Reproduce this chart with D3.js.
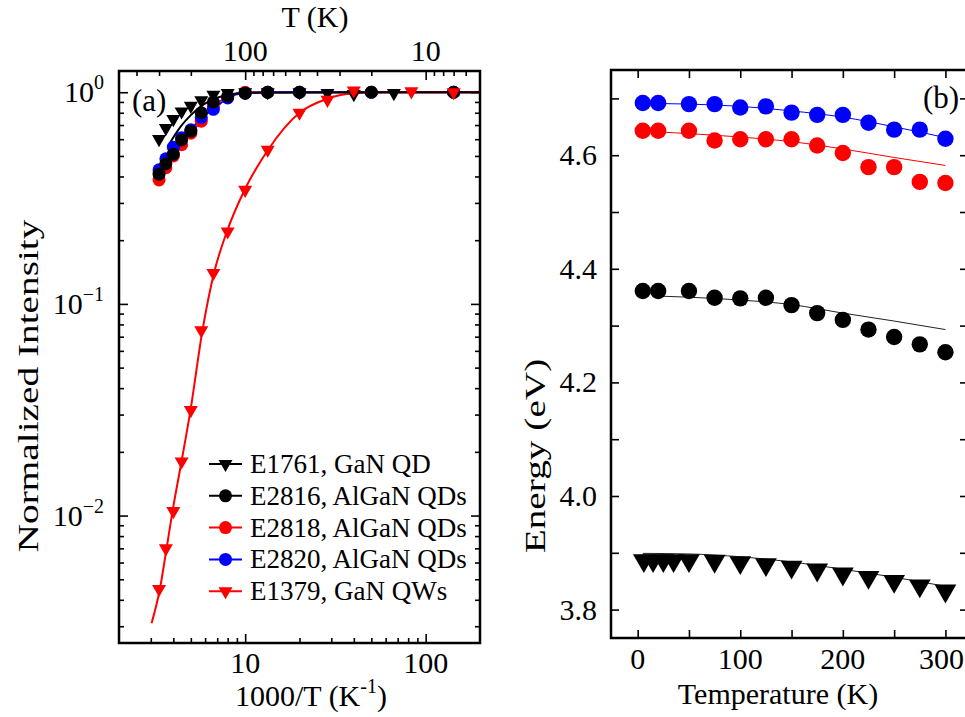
<!DOCTYPE html>
<html><head><meta charset="utf-8">
<script src="https://cdn.jsdelivr.net/npm/d3@7"></script>
<style>
body{margin:0;background:#fff}
text{font-family:"Liberation Serif","Times New Roman",serif;fill:#000}
</style>
</head><body>
<svg id="c" width="965" height="717"></svg>
<script>
// ---------------- Panel (a) data ----------------
const tempA_tri = [300,275,250,225,200,175,150,125,100,75,50,35,25,15];
const intE1761 = [0.601,0.677,0.747,0.811,0.863,0.915,0.973,0.99,1,1,1,0.99,0.98,0.99];
const tempA_dot = [300,275,250,225,200,175,150,125,100,75,50,20,7];
const intE2816 = [0.41,0.46,0.51,0.595,0.655,0.80,0.90,0.955,0.99,1,1,1,1];
const intE2818 = [0.385,0.44,0.50,0.565,0.64,0.73,0.86,0.95,1,1,1,1,1];
const intE2820 = [0.43,0.485,0.55,0.61,0.665,0.76,0.83,0.94,0.99,1,1,1,1];
const tempA_qw = [300,275,250,225,200,175,150,125,100,75,50,35,25,12,7];
const intE1379 = [0.0045,0.0070,0.0105,0.018,0.0315,0.075,0.14,0.22,0.346,0.535,0.80,0.92,1.02,1.01,1];
// fitted curves (a), x = 1000/T
const fitX_E1379 = [3.03,3.37,3.67,3.96,4.44,4.98,5.8,6.72,7.93,9.94,13.4,20,28.3,40,60,200];
const fitY_E1379 = [0.0031,0.0045,0.0070,0.0105,0.018,0.0315,0.075,0.14,0.22,0.346,0.535,0.80,0.93,0.99,1,1];
const fitX_E1761 = [3.8,4.4,5.0,5.6,6.3,7.2,8.5,10,200];
const fitY_E1761 = [0.57,0.69,0.78,0.85,0.905,0.95,0.98,0.995,1];

const legendLabels = ["E1761, GaN QD","E2816, AlGaN QDs","E2818, AlGaN QDs","E2820, AlGaN QDs","E1379, GaN QWs"];

// ---------------- Panel (b) data ----------------
const tempB_dot = [5,20,50,75,100,125,150,175,200,225,250,275,300];
const eE2820 = [4.692,4.692,4.690,4.690,4.684,4.686,4.675,4.671,4.671,4.657,4.645,4.645,4.629];
const eE2818 = [4.643,4.643,4.643,4.626,4.628,4.628,4.628,4.617,4.604,4.579,4.579,4.553,4.551];
const eE2816 = [4.361,4.361,4.361,4.349,4.348,4.349,4.336,4.322,4.310,4.293,4.280,4.267,4.253];
const tempB_tri = [6,15,25,35,50,75,100,125,150,175,200,225,250,275,300];
const eE1761 = [3.8865,3.8865,3.8865,3.8865,3.8865,3.8854,3.883,3.8795,3.875,3.870,3.863,3.857,3.850,3.842,3.833];
const fitT_dot = [20,50,100,150,200,250,300];
const fitE2820 = [4.691,4.690,4.686,4.678,4.667,4.650,4.631];
const fitE2818 = [4.641,4.638,4.632,4.624,4.611,4.596,4.582];
const fitE2816 = [4.352,4.350,4.345,4.337,4.322,4.308,4.293];
const fitT_tri = [5,50,100,150,200,250,300];
const fitE1761 = [3.899,3.898,3.893,3.884,3.871,3.857,3.841];

const RED = "#ff0000", BLUE = "#0000ff", BLACK = "#000000";
const FT = 30;   // tick / title font size

const svg = d3.select("#c");

// ================= Panel (a) =================
const xA = d3.scaleLog().domain([2,200]).range([119,480]);
const tA = d3.scaleLog().domain([500,5]).range([119,480]);   // T axis (1000/T)
const yA = d3.scaleLog().domain([0.0025,1.26]).range([643,71]);

const gA = svg.append("g");
function tickStyle(g){ g.select(".domain").remove(); g.selectAll("line").attr("stroke","#000").attr("stroke-width",1.6); g.selectAll("text").remove(); }

const xMajA = [10,100];
const xMinA = xA.ticks().filter(v => !xMajA.includes(v) && v>2 && v<200);
gA.append("g").attr("transform","translate(0,643)").call(d3.axisBottom(xA).tickValues(xMajA).tickSize(-9)).call(tickStyle);
gA.append("g").attr("transform","translate(0,643)").call(d3.axisBottom(xA).tickValues(xMinA).tickSize(-5)).call(tickStyle);
const tMajA = [100,10];
const tMinA = [400,300,200,90,80,70,60,50,40,30,20,9,8,7,6];
gA.append("g").attr("transform","translate(0,71)").call(d3.axisTop(tA).tickValues(tMajA).tickSize(-9)).call(tickStyle);
gA.append("g").attr("transform","translate(0,71)").call(d3.axisTop(tA).tickValues(tMinA).tickSize(-5)).call(tickStyle);
const yMajA = [1,0.1,0.01];
const yMinA = yA.ticks().filter(v => !yMajA.some(m => Math.abs(m-v)<1e-9) && v>0.0025 && v<1.26);
[[119,d3.axisLeft],[480,d3.axisRight]].forEach(([x,ax])=>{
  gA.append("g").attr("transform",`translate(${x},0)`).call(ax(yA).tickValues(yMajA).tickSize(-9)).call(tickStyle);
  gA.append("g").attr("transform",`translate(${x},0)`).call(ax(yA).tickValues(yMinA).tickSize(-5)).call(tickStyle);
});
gA.append("rect").attr("x",119).attr("y",71).attr("width",361).attr("height",572)
  .attr("fill","none").attr("stroke","#000").attr("stroke-width",2.5);

// tick labels (a)
xMajA.forEach(v => gA.append("text").attr("x",xA(v)).attr("y",673).attr("text-anchor","middle").attr("font-size",FT).text(v));
tMajA.forEach(v => gA.append("text").attr("x",tA(v)).attr("y",61).attr("text-anchor","middle").attr("font-size",FT).text(v));
const yExp = ["0","-1","-2"];
yMajA.forEach((v,i) => {
  const t = gA.append("text").attr("x",104).attr("y",yA(v)+10).attr("text-anchor","end").attr("font-size",FT);
  t.append("tspan").text("10");
  t.append("tspan").attr("dy",-13).attr("font-size",20).text(yExp[i].replace("-","\u2212"));
});
// axis titles (a)
const xt = gA.append("text").attr("x",311).attr("y",706).attr("text-anchor","middle").attr("font-size",FT);
xt.append("tspan").text("1000/T (K");
xt.append("tspan").attr("dy",-13).attr("font-size",20).text("-1");
xt.append("tspan").attr("dy",13).text(")");
gA.append("text").attr("x",315).attr("y",27).attr("text-anchor","middle").attr("font-size",FT).text("T (K)");
gA.append("text").attr("transform","translate(38,386) rotate(-90) scale(1.31,1)").attr("text-anchor","middle").attr("font-size",FT).text("Normalized Intensity");
gA.append("text").attr("x",132).attr("y",111).attr("font-size",31).text("(a)");

// lines (a)
const lineA = d3.line().x(d=>xA(d[0])).y(d=>yA(d[1])).curve(d3.curveMonotoneX);
function ptsA(temps, vals){ return temps.map((t,i)=>[1000/t, vals[i]]).sort((a,b)=>a[0]-b[0]); }
const plotA = gA.append("g");
function extendTo200(p){ return p.concat([[200,1]]); }
plotA.append("path").datum(extendTo200(ptsA(tempA_dot,intE2818))).attr("d",lineA).attr("fill","none").attr("stroke",RED).attr("stroke-width",1.8);
plotA.append("path").datum(extendTo200(ptsA(tempA_dot,intE2820))).attr("d",lineA).attr("fill","none").attr("stroke",BLUE).attr("stroke-width",1.8);
plotA.append("path").datum(fitX_E1379.map((x,i)=>[x,fitY_E1379[i]])).attr("d",lineA).attr("fill","none").attr("stroke",RED).attr("stroke-width",2);
plotA.append("path").datum(fitX_E1761.map((x,i)=>[x,fitY_E1761[i]])).attr("d",lineA).attr("fill","none").attr("stroke",BLACK).attr("stroke-width",2);

const triA = d3.symbol().type(d3.symbolTriangle).size(85)();
const triB = d3.symbol().type(d3.symbolTriangle).size(205)();
function circles(g, pts, r, col){
  g.selectAll(null).data(pts).join("circle").attr("cx",d=>d[0]).attr("cy",d=>d[1]).attr("r",r).attr("fill",col);
}
function tris(g, pts, path, col){
  g.selectAll(null).data(pts).join("path").attr("d",path).attr("fill",col)
   .attr("transform",d=>`translate(${d[0]},${d[1]}) rotate(180)`);
}
const pxA = p => [xA(p[0]), yA(p[1])];
circles(plotA, ptsA(tempA_dot,intE2818).map(pxA), 6.5, RED);
circles(plotA, ptsA(tempA_dot,intE2820).map(pxA), 6.5, BLUE);
circles(plotA, ptsA(tempA_dot,intE2816).map(pxA), 6.5, BLACK);
tris(plotA, ptsA(tempA_tri,intE1761).map(pxA), triA, BLACK);
tris(plotA, ptsA(tempA_qw,intE1379).map(pxA), triA, RED);

// legend (a)
const legColors = [BLACK,BLACK,RED,BLUE,RED];
const legMarks = ["tri","dot","dot","dot","tri"];
legendLabels.forEach((lab,i)=>{
  const y = 464 + i*31.8;
  const g = gA.append("g");
  g.append("line").attr("x1",209).attr("x2",242).attr("y1",y).attr("y2",y).attr("stroke",legColors[i]).attr("stroke-width",2);
  if(legMarks[i]==="tri") g.append("path").attr("d",triA).attr("fill",legColors[i]).attr("transform",`translate(225.5,${y}) rotate(180)`);
  else g.append("circle").attr("cx",225.5).attr("cy",y).attr("r",6.5).attr("fill",legColors[i]);
  g.append("text").attr("x",250).attr("y",y+9).attr("font-size",27).text(lab);
});

// ================= Panel (b) =================
const xB = d3.scaleLinear().domain([-26,322]).range([611,968]);
const yB = d3.scaleLinear().domain([3.75,4.75]).range([638,70]);
const gB = svg.append("g");
const xTicksB = [0,50,100,150,200,250,300];
gB.append("g").attr("transform","translate(0,638)").call(d3.axisBottom(xB).tickValues(xTicksB).tickSize(-8)).call(tickStyle);
gB.append("g").attr("transform","translate(0,70)").call(d3.axisTop(xB).tickValues(xTicksB).tickSize(-8)).call(tickStyle);
const yTicksB = [3.8,3.9,4.0,4.1,4.2,4.3,4.4,4.5,4.6,4.7];
gB.append("g").attr("transform","translate(611,0)").call(d3.axisLeft(yB).tickValues(yTicksB).tickSize(-8)).call(tickStyle);
gB.append("g").attr("transform","translate(968,0)").call(d3.axisRight(yB).tickValues(yTicksB).tickSize(-8)).call(tickStyle);
gB.append("rect").attr("x",611).attr("y",70).attr("width",357).attr("height",568)
  .attr("fill","none").attr("stroke","#000").attr("stroke-width",2.5);
[0,100,200,300].forEach(v => {
  const t = gB.append("text").attr("x",xB(v)).attr("y",669).attr("text-anchor","middle").attr("font-size",FT).text(v);
  const bb = t.node().getBBox();
  if (bb.x + bb.width > 964) t.attr("x", xB(v) - (bb.x + bb.width - 964));
});
[3.8,4.0,4.2,4.4,4.6].forEach(v => gB.append("text").attr("x",597).attr("y",yB(v)+10).attr("text-anchor","end").attr("font-size",FT).text(v.toFixed(1)));
gB.append("text").attr("x",778).attr("y",704).attr("text-anchor","middle").attr("font-size",FT).text("Temperature (K)");
gB.append("text").attr("transform","translate(545,456) rotate(-90) scale(1.31,1)").attr("text-anchor","middle").attr("font-size",FT).text("Energy (eV)");
gB.append("text").attr("x",923).attr("y",108).attr("font-size",31).text("(b)");

const lineB = d3.line().x(d=>xB(d[0])).y(d=>yB(d[1])).curve(d3.curveMonotoneX);
const plotB = gB.append("g");
plotB.append("path").datum(fitT_dot.map((t,i)=>[t,fitE2820[i]])).attr("d",lineB).attr("fill","none").attr("stroke",BLUE).attr("stroke-width",1);
plotB.append("path").datum(fitT_dot.map((t,i)=>[t,fitE2818[i]])).attr("d",lineB).attr("fill","none").attr("stroke",RED).attr("stroke-width",1);
plotB.append("path").datum(fitT_dot.map((t,i)=>[t,fitE2816[i]])).attr("d",lineB).attr("fill","none").attr("stroke","#222").attr("stroke-width",1);
plotB.append("path").datum(fitT_tri.map((t,i)=>[t,fitE1761[i]])).attr("d",lineB).attr("fill","none").attr("stroke","#222").attr("stroke-width",1);
circles(plotB, tempB_dot.map((t,i)=>[xB(t),yB(eE2820[i])]), 8.2, BLUE);
circles(plotB, tempB_dot.map((t,i)=>[xB(t),yB(eE2818[i])]), 8.2, RED);
circles(plotB, tempB_dot.map((t,i)=>[xB(t),yB(eE2816[i])]), 8.2, BLACK);
tris(plotB, tempB_tri.map((t,i)=>[xB(t),yB(eE1761[i])]), triB, BLACK);
</script>
</body></html>
